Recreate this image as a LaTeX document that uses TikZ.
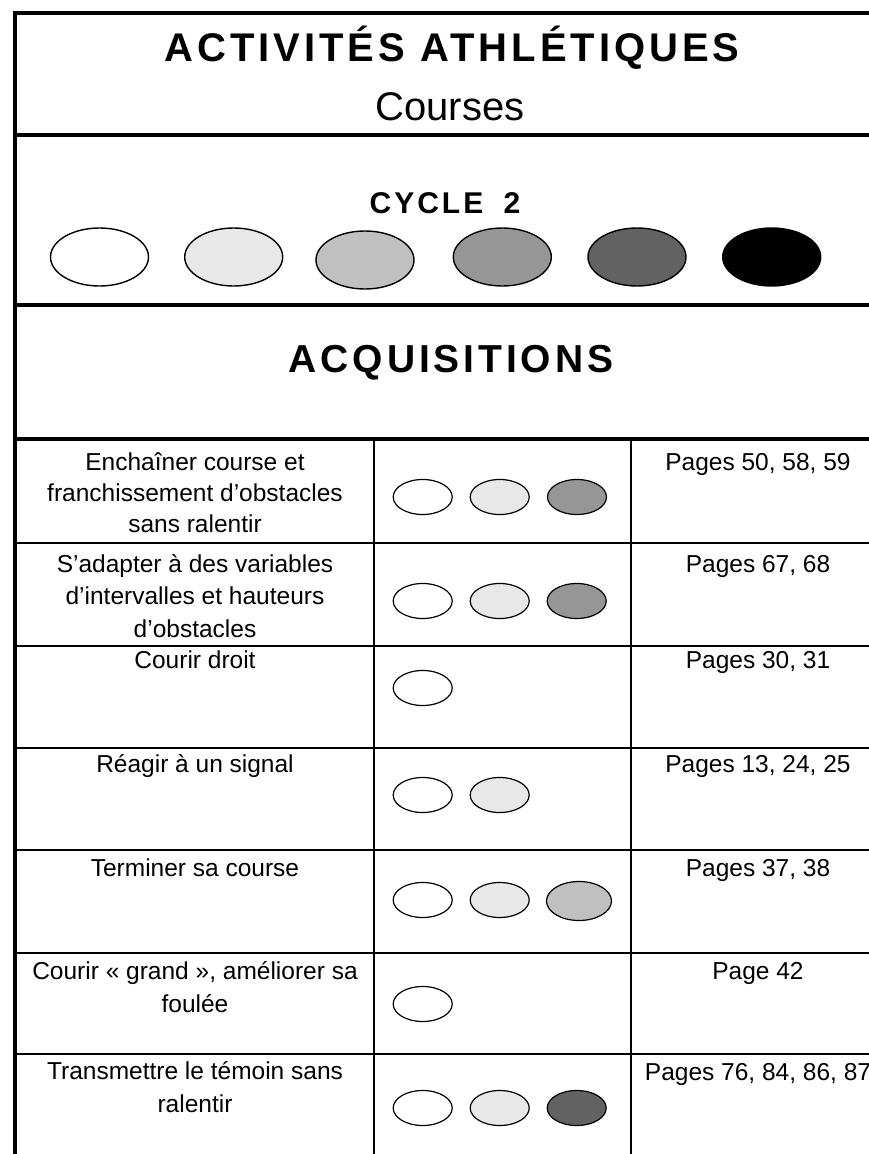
\documentclass[tikz,border=0pt]{standalone}
\usepackage{fontspec}
\usetikzlibrary{shapes.geometric}
\setmainfont{Liberation Sans}
\newfontfamily\trackedfont{Liberation Sans}[LetterSpace=10]
\definecolor{lvlA}{HTML}{FFFFFF}
\definecolor{lvlB}{HTML}{E8E8E8}
\definecolor{lvlC}{HTML}{C0C0C0}
\definecolor{lvlD}{HTML}{969696}
\definecolor{lvlE}{HTML}{626262}
\definecolor{lvlF}{HTML}{000000}
\begin{document}
% multi-line labels are placed by the baseline of their last line
\begin{tikzpicture}[x=1pt,y=-1pt,
  heavy/.style={line width=4pt},
  rule/.style={line width=1.7pt},
  big/.style={draw=black,line width=1.4pt,ellipse,minimum width=98pt,minimum height=58pt,inner sep=0pt},
  small/.style={draw=black,line width=1.2pt,ellipse,minimum width=59pt,minimum height=35pt,inner sep=0pt},
  label/.style={inner sep=0pt,anchor=base,align=center,font=\fontsize{24.5}{32.5}\selectfont},
]
\useasboundingbox (0,0) rectangle (869,1154);
\clip (0,0) rectangle (869,1154);

% outer frame and section rules
\draw[heavy] (15,1170) -- (15,13) -- (900,13);
\draw[heavy] (15,135) -- (900,135);
\draw[heavy] (15,305) -- (900,305);
\draw[heavy] (15,439) -- (900,439);

% table grid
\foreach \y in {543,646,748,850,953,1054}
  \draw[rule] (15,\y) -- (900,\y);
\draw[rule] (374,439) -- (374,1170);
\draw[rule] (631,439) -- (631,1170);

% header
\node[inner sep=0pt,anchor=base] (title) at (452,61)
  {\trackedfont\fontsize{40}{48}\selectfont\bfseries ACTIVITÉS ATHLÉTIQUES};
\node[inner sep=0pt,anchor=base] (sub) at (450,120)
  {\fontsize{40}{48}\selectfont Courses};
\node[inner sep=0pt,anchor=base] (cycle) at (445,213)
  {\trackedfont\fontsize{30}{36}\selectfont\bfseries CYCLE\hspace{0.3em} 2};

% level scale
\node[big,fill=lvlA] (s1) at (99.5,257) {};
\node[big,fill=lvlB] (s2) at (233.7,257) {};
\node[big,fill=lvlC] (s3) at (365,260) {};
\node[big,fill=lvlD] (s4) at (502.3,257) {};
\node[big,fill=lvlE] (s5) at (637,257) {};
\node[big,fill=lvlF] (s6) at (771.7,257) {};

\node[inner sep=0pt,anchor=base] (acq) at (451,372)
  {\trackedfont\fontsize{39}{46}\selectfont\bfseries ACQUISITIONS};

% row 1
\node[label,font=\fontsize{24.5}{31}\selectfont] (t1) at (195,532) {Enchaîner course et\\franchissement d’obstacles\\sans ralentir};
\node[small,fill=lvlA] (e11) at (422.7,497) {};
\node[small,fill=lvlB] (e12) at (499.7,497) {};
\node[small,fill=lvlD] (e13) at (577,497) {};
\node[label] (p1) at (758,470) {Pages 50, 58, 59};

% row 2
\node[label] (t2) at (195,637) {S’adapter à des variables\\d’intervalles et hauteurs\\d’obstacles};
\node[small,fill=lvlA] (e21) at (422.7,601) {};
\node[small,fill=lvlB] (e22) at (499.7,601) {};
\node[small,fill=lvlD] (e23) at (576.7,601) {};
\node[label] (p2) at (758,572) {Pages 67, 68};

% row 3
\node[label] (t3) at (195,668) {Courir droit};
\node[small,fill=lvlA] (e31) at (422.7,688) {};
\node[label] (p3) at (758,668) {Pages 30, 31};

% row 4
\node[label] (t4) at (195,772) {Réagir à un signal};
\node[small,fill=lvlA] (e41) at (422.7,795) {};
\node[small,fill=lvlB] (e42) at (499.7,795) {};
\node[label] (p4) at (758,772) {Pages 13, 24, 25};

% row 5
\node[label] (t5) at (195,876) {Terminer sa course};
\node[small,fill=lvlA] (e51) at (422.7,900) {};
\node[small,fill=lvlB] (e52) at (499.7,900) {};
\node[small,fill=lvlC,minimum width=65pt,minimum height=39pt] (e53) at (579,901) {};
\node[label] (p5) at (758,876) {Pages 37, 38};

% row 6
\node[label] (t6) at (195,1012) {Courir « grand », améliorer sa\\foulée};
\node[small,fill=lvlA] (e61) at (422.7,1004) {};
\node[label] (p6) at (758,979.5) {Page 42};

% row 7
\node[label] (t7) at (195,1112) {Transmettre le témoin sans\\ralentir};
\node[small,fill=lvlA] (e71) at (422.7,1108) {};
\node[small,fill=lvlB] (e72) at (499.7,1108) {};
\node[small,fill=lvlE] (e73) at (576.7,1108) {};
\node[label] (p7) at (758,1080) {Pages 76, 84, 86, 87};
\end{tikzpicture}
\end{document}
